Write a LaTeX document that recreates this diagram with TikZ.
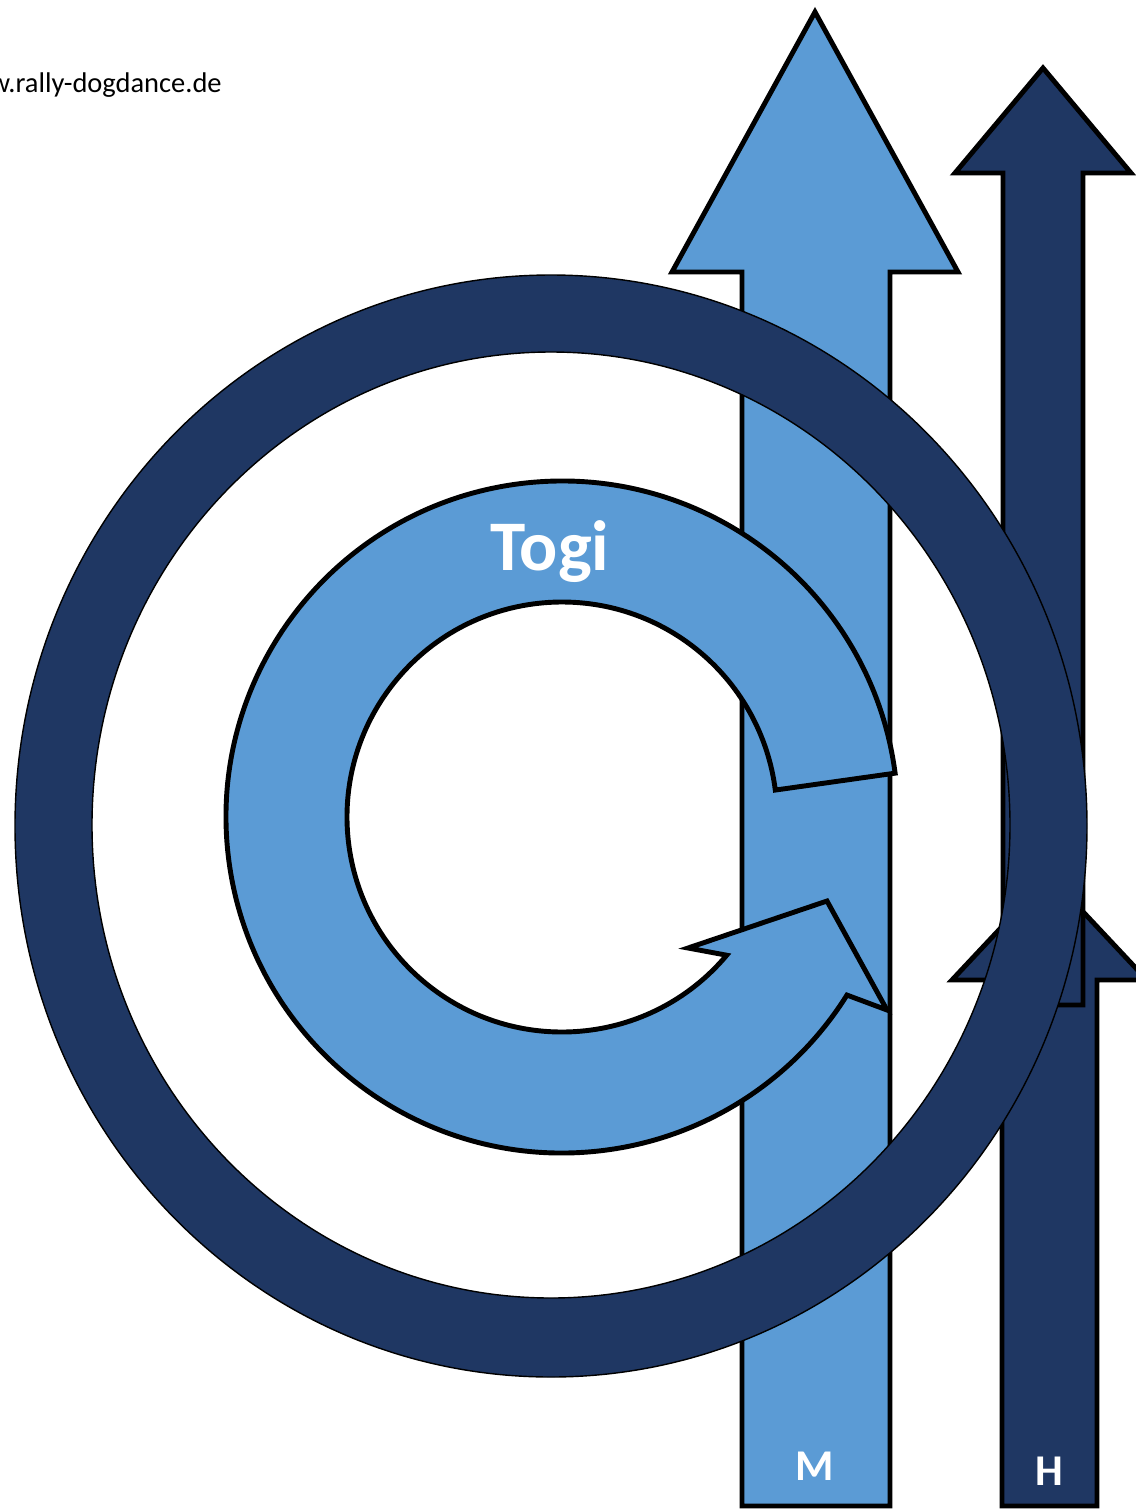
\documentclass[tikz,border=0pt]{standalone}
\usepackage{fontspec}
\setmainfont{Carlito}
\usetikzlibrary{calc}
\definecolor{lightblue}{HTML}{5B9BD5}
\definecolor{navy}{HTML}{1F3763}
\begin{document}
\begin{tikzpicture}[x=0.02cm,y=-0.02cm,
    bigarrow/.style={draw=black,line width=2.8pt,line join=miter},
    ringshape/.style={fill=navy,draw=black,line width=0.8pt,even odd rule},
    label/.style={text=white,font=\bfseries\fontsize{25}{30}\selectfont,anchor=base}]
  \useasboundingbox (0,0) rectangle (1136,1509);
  \draw[bigarrow,fill=lightblue]
    (742,1506) -- (742,272) -- (672,272) -- (815,12) -- (958,272)
    -- (890,272) -- (890,1506) -- cycle;
  \draw[bigarrow,fill=navy]
    (1002,1506) -- (1002,980) -- (952,980) -- (1049.5,876) -- (1147,980)
    -- (1097,980) -- (1097,1506) -- cycle;
  \draw[bigarrow,fill=navy]
    (1003,1005) -- (1003,173) -- (955,173) -- (1043,68) -- (1131,173)
    -- (1083,173) -- (1083,1005) -- cycle;
  \coordinate (togicentre) at (562,817);
  \draw[bigarrow,fill=lightblue]
    ($(togicentre)+(-7.5:336)$) arc[start angle=-7.5,end angle=-328,radius=336]
    -- (887,1010) -- (827,901) -- (688,948)
    -- ($(togicentre)+(-320:215)$) arc[start angle=-320,end angle=-7.2,radius=215]
    -- cycle;
  \draw[ringshape]
    (551,826) ellipse[x radius=536,y radius=551]
    (551,825) ellipse[x radius=459,y radius=473];
  \node[text=white,font=\bfseries\fontsize{40.5}{48}\selectfont,anchor=base] (togi) at (550,570) {Togi};
  \node[label] (M) at (815,1480) {M};
  \node[label] (H) at (1049.5,1485) {H};
  \node[anchor=base east,inner sep=0pt,font=\fontsize{16.2}{19}\selectfont] (web) at (222,92) {www.rally-dogdance.de};
\end{tikzpicture}
\end{document}
